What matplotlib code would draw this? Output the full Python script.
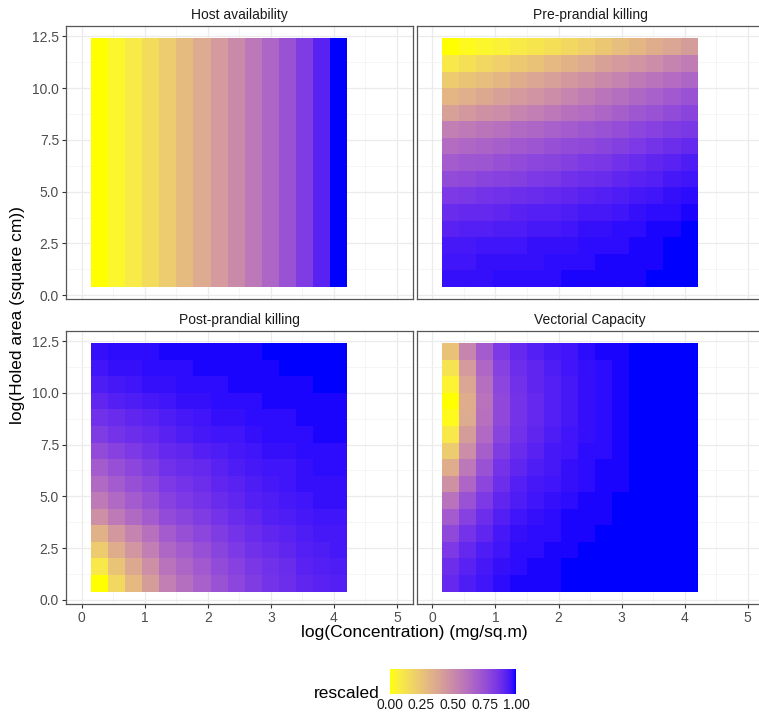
import numpy as np
import matplotlib
matplotlib.use("Agg")
import matplotlib.pyplot as plt
from matplotlib.colors import ListedColormap, Normalize

plt.rcParams['font.family'] = ['Liberation Sans', 'DejaVu Sans']

# ---------------- data ----------------
panel_titles = ["Host availability", "Pre-prandial killing",
                "Post-prandial killing", "Vectorial Capacity"]

# tile centres: log(concentration) and log(holed area) (rows listed top -> bottom)
log_conc = [0.28, 0.55, 0.82, 1.09, 1.36, 1.63, 1.90, 2.18, 2.45, 2.72,
            2.99, 3.26, 3.53, 3.80, 4.07]
log_area = [12.0, 11.2, 10.4, 9.6, 8.8, 8.0, 7.2, 6.4, 5.6, 4.8,
            4.0, 3.2, 2.4, 1.6, 0.8]

# Host availability varies only with concentration
host_by_conc = [0.00, 0.04, 0.09, 0.15, 0.22, 0.29, 0.36, 0.43, 0.50, 0.58,
                0.66, 0.74, 0.83, 0.92, 1.00]

pre_prandial = [
    [.00, .02, .04, .06, .09, .11, .14, .17, .20, .24, .28, .31, .35, .38, .42],
    [.10, .13, .17, .20, .23, .26, .30, .33, .36, .40, .43, .46, .49, .53, .56],
    [.22, .25, .28, .31, .35, .38, .41, .44, .47, .50, .53, .57, .60, .63, .66],
    [.31, .34, .37, .40, .43, .46, .49, .52, .56, .59, .62, .65, .68, .71, .74],
    [.41, .44, .47, .49, .52, .55, .58, .61, .63, .66, .69, .72, .74, .77, .80],
    [.55, .57, .59, .61, .64, .66, .68, .70, .72, .74, .76, .79, .81, .83, .85],
    [.63, .65, .67, .69, .71, .73, .75, .77, .78, .80, .82, .84, .86, .88, .90],
    [.70, .72, .73, .75, .77, .79, .80, .82, .84, .85, .87, .89, .91, .92, .94],
    [.77, .78, .80, .81, .82, .84, .85, .87, .88, .89, .91, .92, .93, .95, .96],
    [.84, .85, .86, .87, .88, .89, .90, .91, .92, .93, .94, .95, .96, .97, .98],
    [.89, .90, .90, .91, .92, .93, .93, .94, .95, .95, .96, .97, .98, .98, .99],
    [.92, .93, .93, .94, .94, .95, .95, .96, .97, .97, .98, .98, .99, .99, 1.0],
    [.95, .95, .96, .96, .96, .97, .97, .97, .98, .98, .98, .99, .99, 1.0, 1.0],
    [.96, .96, .97, .97, .97, .97, .98, .98, .98, .99, .99, .99, .99, 1.0, 1.0],
    [.97, .97, .97, .98, .98, .98, .98, .99, .99, .99, .99, .99, 1.0, 1.0, 1.0],
]

post_prandial = [
    [.97, .98, .98, .98, .99, .99, .99, .99, .99, .99, 1.0, 1.0, 1.0, 1.0, 1.0],
    [.96, .97, .97, .98, .98, .98, .99, .99, .99, .99, .99, 1.0, 1.0, 1.0, 1.0],
    [.94, .95, .96, .97, .97, .98, .98, .98, .99, .99, .99, .99, .99, 1.0, 1.0],
    [.91, .93, .94, .95, .96, .97, .97, .98, .98, .98, .99, .99, .99, .99, .99],
    [.87, .89, .91, .92, .94, .95, .96, .97, .97, .98, .98, .98, .99, .99, .99],
    [.83, .86, .88, .90, .92, .94, .95, .96, .96, .97, .98, .98, .98, .99, .99],
    [.77, .81, .84, .87, .90, .91, .93, .94, .95, .96, .97, .97, .98, .98, .98],
    [.70, .75, .79, .83, .87, .89, .90, .92, .94, .95, .96, .96, .97, .98, .98],
    [.64, .70, .75, .79, .84, .86, .88, .91, .92, .94, .95, .96, .97, .97, .97],
    [.57, .64, .70, .75, .81, .84, .86, .89, .91, .93, .94, .95, .96, .97, .97],
    [.48, .57, .64, .70, .77, .80, .83, .86, .89, .91, .93, .94, .95, .96, .96],
    [.33, .44, .53, .61, .70, .75, .79, .83, .86, .89, .91, .92, .94, .95, .95],
    [.22, .35, .45, .55, .65, .70, .75, .80, .84, .87, .89, .91, .93, .94, .95],
    [.10, .25, .37, .48, .60, .66, .71, .77, .81, .85, .87, .89, .92, .93, .94],
    [.00, .17, .30, .42, .55, .62, .68, .74, .79, .83, .86, .88, .91, .92, .93],
]

vectorial_capacity = [
    [.26, .52, .70, .84, .90, .93, .95, .96, .98, .99, .99, 1.0, 1.0, 1.0, 1.0],
    [.12, .43, .65, .81, .88, .91, .94, .96, .97, .98, .99, 1.0, 1.0, 1.0, 1.0],
    [.05, .38, .62, .79, .87, .91, .93, .95, .97, .98, .99, 1.0, 1.0, 1.0, 1.0],
    [.00, .35, .60, .78, .86, .90, .93, .95, .97, .98, .99, 1.0, 1.0, 1.0, 1.0],
    [.02, .36, .61, .78, .86, .90, .93, .95, .97, .98, .99, 1.0, 1.0, 1.0, 1.0],
    [.10, .42, .64, .80, .87, .91, .94, .96, .97, .98, .99, 1.0, 1.0, 1.0, 1.0],
    [.22, .49, .69, .83, .89, .92, .95, .96, .98, .98, .99, 1.0, 1.0, 1.0, 1.0],
    [.35, .58, .74, .86, .91, .94, .95, .97, .98, .99, .99, 1.0, 1.0, 1.0, 1.0],
    [.47, .66, .79, .88, .93, .95, .96, .97, .98, .99, .99, 1.0, 1.0, 1.0, 1.0],
    [.60, .74, .84, .91, .94, .96, .97, .98, .99, .99, 1.0, 1.0, 1.0, 1.0, 1.0],
    [.70, .81, .88, .93, .96, .97, .98, .99, .99, .99, 1.0, 1.0, 1.0, 1.0, 1.0],
    [.78, .86, .91, .95, .97, .98, .98, .99, .99, 1.0, 1.0, 1.0, 1.0, 1.0, 1.0],
    [.84, .90, .94, .96, .98, .98, .99, .99, 1.0, 1.0, 1.0, 1.0, 1.0, 1.0, 1.0],
    [.88, .92, .95, .97, .98, .99, .99, 1.0, 1.0, 1.0, 1.0, 1.0, 1.0, 1.0, 1.0],
    [.90, .94, .96, .98, .99, .99, .99, 1.0, 1.0, 1.0, 1.0, 1.0, 1.0, 1.0, 1.0],
]

x_ticks = [0, 1, 2, 3, 4, 5]
y_ticks = [0.0, 2.5, 5.0, 7.5, 10.0, 12.5]
legend_ticks = [0.00, 0.25, 0.50, 0.75, 1.00]

# ---------------- colour scale (yellow -> blue, Lab interpolation) ----------------
def srgb_to_lab(rgb):
    rgb = np.asarray(rgb, float)
    lin = np.where(rgb <= 0.04045, rgb / 12.92, ((rgb + 0.055) / 1.055) ** 2.4)
    M = np.array([[0.4124, 0.3576, 0.1805],
                  [0.2126, 0.7152, 0.0722],
                  [0.0193, 0.1192, 0.9505]])
    xyz = M @ lin / np.array([0.95047, 1.0, 1.08883])
    f = np.where(xyz > 0.008856, np.cbrt(xyz), 7.787 * xyz + 16 / 116)
    return np.array([116 * f[1] - 16, 500 * (f[0] - f[1]), 200 * (f[1] - f[2])])


def lab_to_srgb(lab):
    L, a, b = lab
    fy = (L + 16) / 116
    fx = fy + a / 500
    fz = fy - b / 200
    f = np.array([fx, fy, fz])
    xyz = np.where(f ** 3 > 0.008856, f ** 3, (f - 16 / 116) / 7.787)
    xyz = xyz * np.array([0.95047, 1.0, 1.08883])
    Minv = np.array([[3.2406, -1.5372, -0.4986],
                     [-0.9689, 1.8758, 0.0415],
                     [0.0557, -0.2040, 1.0570]])
    lin = np.clip(Minv @ xyz, 0, 1)
    rgb = np.where(lin <= 0.0031308, 12.92 * lin, 1.055 * lin ** (1 / 2.4) - 0.055)
    return np.clip(rgb, 0, 1)


lab_lo = srgb_to_lab([1, 1, 0])
lab_hi = srgb_to_lab([0, 0, 1])
cols = [lab_to_srgb(lab_lo + t * (lab_hi - lab_lo)) for t in np.linspace(0, 1, 256)]
cmap = ListedColormap(cols)
norm = Normalize(0, 1)

# ---------------- figure ----------------
W, H = 759, 718
fig = plt.figure(figsize=(W / 100, H / 100), dpi=100)

pw, ph = 346.7, 273.3
lefts = [66.0, 416.7]
tops = [26.0, 330.7]

panel_data = [np.tile(host_by_conc, (len(log_area), 1)),
              np.array(pre_prandial), np.array(post_prandial),
              np.array(vectorial_capacity)]

xc = np.array(log_conc)
yc = np.array(log_area)
dx = xc[1] - xc[0]
dy = yc[0] - yc[1]
x_edges = np.concatenate([xc - dx / 2, [xc[-1] + dx / 2]])
y_edges = np.concatenate([yc + dy / 2, [yc[-1] - dy / 2]])

tick_col = '#4D4D4D'
for k in range(4):
    r, c = divmod(k, 2)
    ax = fig.add_axes([lefts[c] / W, 1 - (tops[r] + ph) / H, pw / W, ph / H])
    ax.set_xlim(-0.25, 5.25)
    ax.set_ylim(-0.2, 13.0)
    ax.set_axisbelow(True)
    for xv in np.arange(0, 5.01, 1):
        ax.axvline(xv, color='#EBEBEB', lw=0.9, zorder=0)
    for xv in np.arange(0.5, 5.0, 1):
        ax.axvline(xv, color='#F2F2F2', lw=0.5, zorder=0)
    for yv in np.arange(0, 12.51, 2.5):
        ax.axhline(yv, color='#EBEBEB', lw=0.9, zorder=0)
    for yv in np.arange(1.25, 13.0, 2.5):
        ax.axhline(yv, color='#F2F2F2', lw=0.5, zorder=0)
    ax.pcolormesh(x_edges, y_edges, panel_data[k], cmap=cmap, norm=norm,
                  shading='flat', antialiased=False, zorder=2)
    for sp in ax.spines.values():
        sp.set_color('#555555')
        sp.set_linewidth(0.9)
    ax.set_xticks(x_ticks)
    ax.set_yticks(y_ticks)
    ax.tick_params(length=3, width=0.8, color='#333333', labelcolor=tick_col,
                   labelsize=10, pad=2)
    if c == 0:
        ax.set_yticklabels([f"{v:.1f}" for v in y_ticks])
    else:
        ax.tick_params(axis='y', left=False, labelleft=False)
    if r == 1:
        ax.set_xticklabels([str(v) for v in x_ticks])
    else:
        ax.tick_params(axis='x', bottom=False, labelbottom=False)
    ax.set_title(panel_titles[k], fontsize=10, color='#1A1A1A', pad=5)

# axis titles
fig.text((66 + 416.7 + pw) / 2 / W, 1 - 633 / H, "log(Concentration) (mg/sq.m)",
         ha='center', va='center', fontsize=12.5)
fig.text(18 / W, 1 - 315 / H, "log(Holed area (square cm))", rotation=90,
         ha='center', va='center', fontsize=12.5)

# legend colour bar
cax = fig.add_axes([390 / W, 1 - 694 / H, 126 / W, 25 / H])
grad = np.linspace(0, 1, 256)[None, :]
cax.imshow(grad, cmap=cmap, norm=norm, aspect='auto', extent=[0, 1, 0, 1],
           interpolation='bilinear')
cax.set_xlim(0, 1)
cax.set_ylim(0, 1)
for sp in cax.spines.values():
    sp.set_visible(False)
cax.set_yticks([])
cax.set_xticks(legend_ticks)
cax.set_xticklabels([f"{v:.2f}" for v in legend_ticks])
cax.tick_params(axis='x', which='major', length=0, labelsize=10,
                labelcolor='#1A1A1A', pad=3)
# white tick marks inside the bar (inner breaks only)
cax.set_xticks(legend_ticks[1:-1], minor=True)
cax.tick_params(axis='x', which='minor', direction='in', color='white',
                length=5, width=0.8, top=True, bottom=True)
fig.text(380 / W, 1 - 694 / H, "rescaled", ha='right', va='center', fontsize=12.5)

fig.savefig("out.png", dpi=100)
